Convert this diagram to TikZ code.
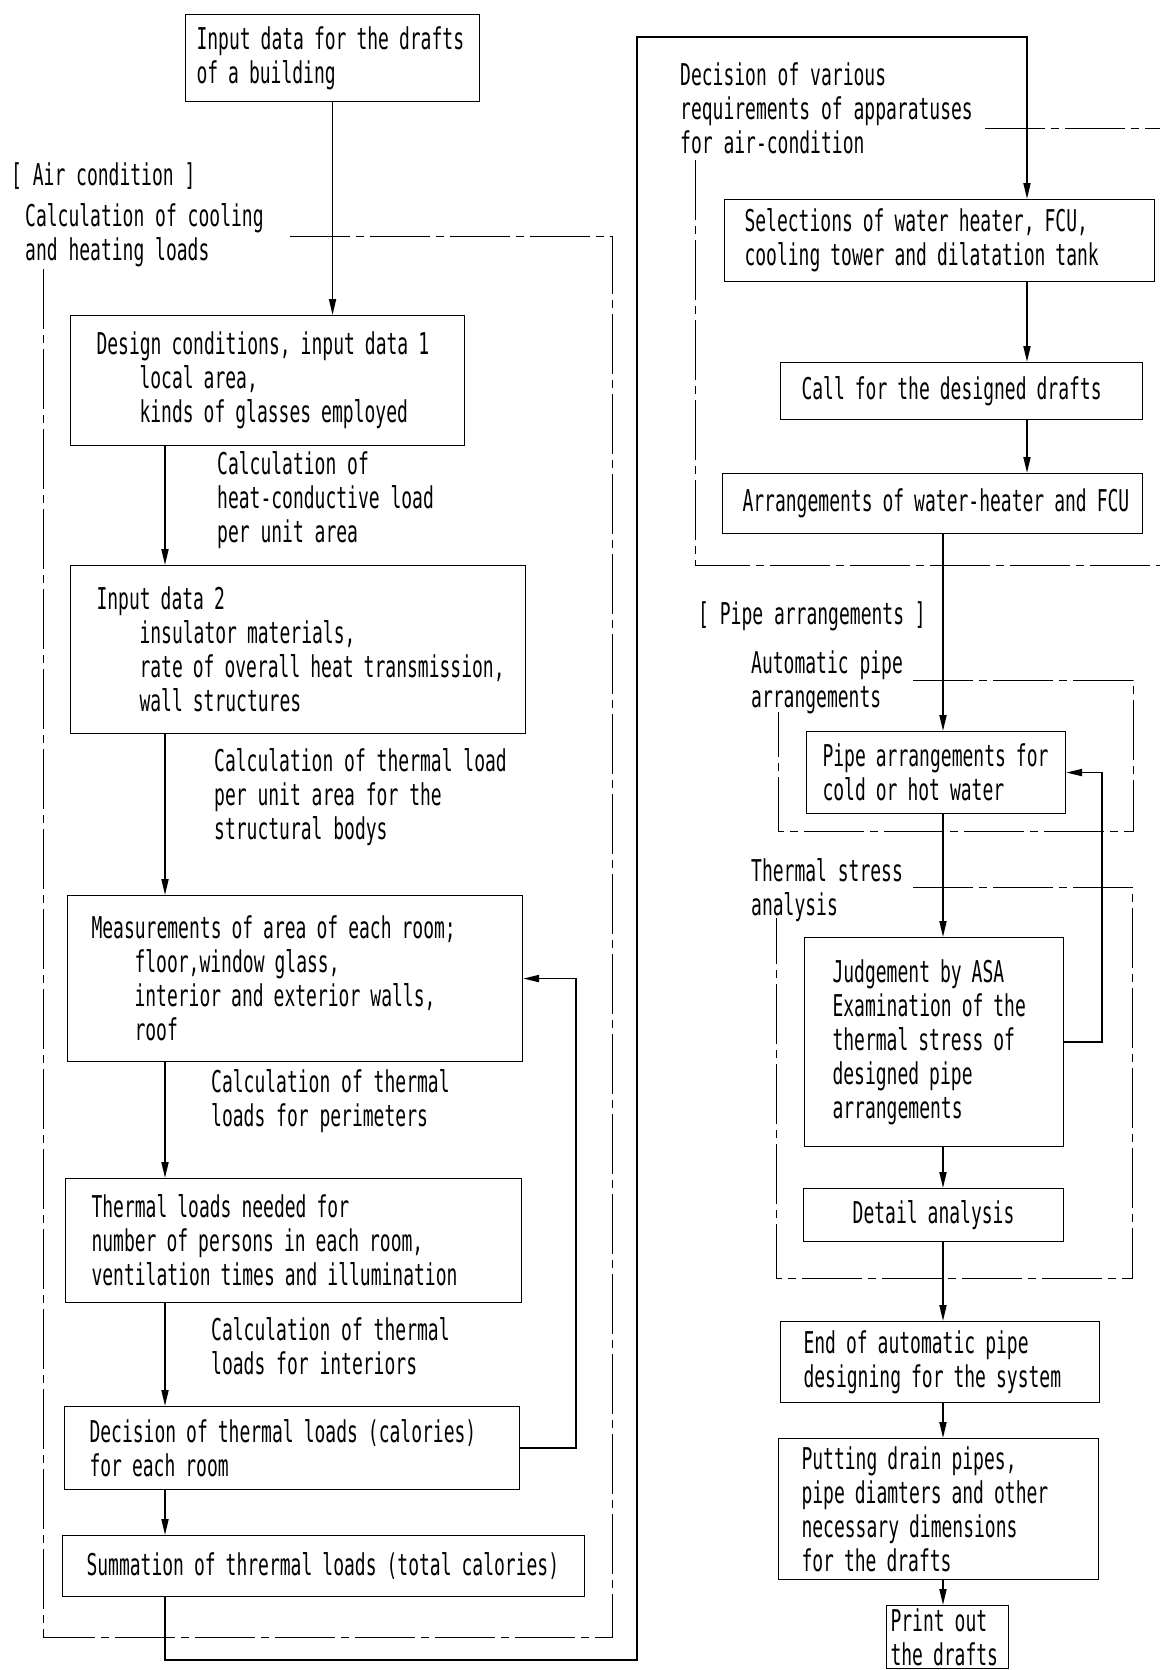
\documentclass[tikz,border=0pt]{standalone}
\usepackage{fontspec}
\newfontfamily\drawfont[FakeStretch=0.6]{DejaVu Sans Mono}
\usepackage{tikz}
\usetikzlibrary{arrows.meta, positioning}

\newcommand{\tabin}{\hspace*{43bp}}

\tikzset{
	stage/.style={draw, line width=1.1bp, anchor=north west, align=left, inner ysep=0pt},
	remark/.style={anchor=west, align=left, inner sep=0pt},
	flow/.style={line width=1.8bp, -{Triangle[length=16bp, width=7bp]}},
	frame/.style={line width=0.9bp, dash pattern=on 60bp off 6bp on 8bp off 6bp},
}

\begin{document}
\begin{tikzpicture}[x=1bp, y=-1bp, font=\drawfont\fontsize{30bp}{34bp}\selectfont]
			\useasboundingbox (0, 0) rectangle (1160, 1670);
			
			\coordinate (lc) at (165, 0);
			\coordinate (rc) at (1027, 0);
			\coordinate (pc) at (943, 0);
			\coordinate (lowturn) at (637, 1660);
			\coordinate (topturn) at (637, 37);
			
			\node[stage, inner xsep=11bp, text width=272bp, minimum height=87bp] (drafts) at (185, 14) {Input data for the drafts\\of a building};
			
			\node[remark] (aircond) at (11, 176) {[ Air condition ]};
			\node[remark] (coolheat) at (25, 235) {Calculation of cooling\\and heating loads};
			\draw[frame] (290, 236) -- (612, 236) -- (612, 1637) -- (43, 1637) -- (43, 266);
			
			\node[stage, inner xsep=26bp, text width=342bp, minimum height=130bp] (design) at (70, 315) {Design conditions, input data 1\\\tabin local area,\\\tabin kinds of glasses employed};
			
			\node[remark] (conduct) at (217, 500) {Calculation of\\heat-conductive load\\per unit area};
			
			\node[stage, inner xsep=26bp, text width=403bp, minimum height=168bp] (inputtwo) at (70, 565) {Input data 2\\\tabin insulator materials,\\\tabin\mbox{rate of overall heat transmission,}\\\tabin wall structures};
			
			\node[remark] (structload) at (214, 797) {Calculation of thermal load\\per unit area for the\\structural bodys};
			
			\node[stage, inner xsep=24bp, text width=407bp, minimum height=166bp] (measure) at (67, 895) {Measurements of area of each room;\\\tabin floor,window glass,\\\tabin interior and exterior walls,\\\tabin roof};
			
			\node[remark] (perimeter) at (211, 1101) {Calculation of thermal\\loads for perimeters};
			
			\node[stage, inner xsep=26bp, text width=404bp, minimum height=124bp] (needed) at (65, 1178) {Thermal loads needed for\\number of persons in each room,\\ventilation times and illumination};
			
			\node[remark] (interior) at (211, 1346) {Calculation of thermal\\loads for interiors};
			
			\node[stage, inner xsep=25bp, text width=405bp, minimum height=83bp] (decide) at (64, 1406) {Decision of thermal loads (calories)\\for each room};
			
			\node[stage, inner xsep=24bp, text width=474bp, minimum height=61bp] (total) at (62, 1535) {Summation of thrermal loads (total calories)};
			
			\draw[flow] (drafts) -- (drafts |- design.north);
			\draw[flow] (design.south -| lc) -- (inputtwo.north -| lc);
			\draw[flow] (inputtwo.south -| lc) -- (measure.north -| lc);
			\draw[flow] (measure.south -| lc) -- (needed.north -| lc);
			\draw[flow] (needed.south -| lc) -- (decide.north -| lc);
			\draw[flow] (decide.south -| lc) -- (total.north -| lc);
			\draw[flow] (decide.east) -- ++(56, 0) |- (measure.east);
			
			\node[remark] (apparatus) at (680, 108) {Decision of various\\requirements of apparatuses\\for air-condition};
			\draw[frame] (985, 128) -- (1160, 128);
			\draw[frame] (695, 160) -- (695, 565) -- (1160, 565);
			
			\node[stage, inner xsep=20bp, text width=390bp, minimum height=82bp] (select) at (724, 199) {Selections of water heater, FCU,\\cooling tower and dilatation tank};
			
			\node[stage, inner xsep=21bp, text width=320bp, minimum height=57bp] (callfor) at (780, 362) {Call for the designed drafts};
			
			\node[stage, inner xsep=20bp, text width=380bp, minimum height=60bp] (arrange) at (722, 473) {\mbox{Arrangements of water-heater and FCU}};
			
			\draw[flow] (total.south -| lc) |- (lowturn) -- (topturn) -| (select.north -| rc);
			\draw[flow] (select.south -| rc) -- (callfor.north -| rc);
			\draw[flow] (callfor.south -| rc) -- (arrange.north -| rc);
			
			\node[remark] (pipegroup) at (698, 616) {[ Pipe arrangements ]};
			\node[remark] (autopipe) at (751, 682) {Automatic pipe\\arrangements};
			\draw[frame] (913, 680) -- (1133, 680) -- (1133, 831) -- (778, 831) -- (778, 712);
			
			\node[stage, inner xsep=16bp, text width=227bp, minimum height=82bp] (pipefor) at (806, 731) {Pipe arrangements for\\cold or hot water};
			
			\node[remark] (stress) at (751, 890) {Thermal stress\\analysis};
			\draw[frame] (913, 887) -- (1132, 887) -- (1132, 1278) -- (776, 1278) -- (776, 918);
			
			\node[stage, inner xsep=28bp, text width=203bp, minimum height=209bp] (judge) at (804, 937) {Judgement by ASA\\Examination of the\\thermal stress of\\designed pipe\\arrangements};
			
			\node[stage, align=center, inner xsep=0bp, text width=260bp, minimum height=53bp] (detail) at (803, 1188) {Detail analysis};
			
			\node[stage, inner xsep=23bp, text width=273bp, minimum height=81bp] (endpipe) at (780, 1321) {End of automatic pipe\\designing for the system};
			
			\node[stage, inner xsep=23bp, text width=274bp, minimum height=141bp] (putting) at (778, 1438) {Putting drain pipes,\\pipe diamters and other\\necessary dimensions\\for the drafts};
			
			\node[stage, inner xsep=4bp, text width=114bp, minimum height=63bp] (printout) at (886, 1605) {Print out\\the drafts};
			
			\draw[flow] (arrange.south -| pc) -- (pipefor.north -| pc);
			\draw[flow] (pipefor.south -| pc) -- (judge.north -| pc);
			\draw[flow] (judge.south -| pc) -- (detail.north -| pc);
			\draw[flow] (detail.south -| pc) -- (endpipe.north -| pc);
			\draw[flow] (endpipe.south -| pc) -- (putting.north -| pc);
			\draw[flow] (putting.south -| pc) -- (printout.north -| pc);
			\draw[flow] (judge.east) -- ++(38, 0) |- (pipefor.east);
\end{tikzpicture}
\end{document}
